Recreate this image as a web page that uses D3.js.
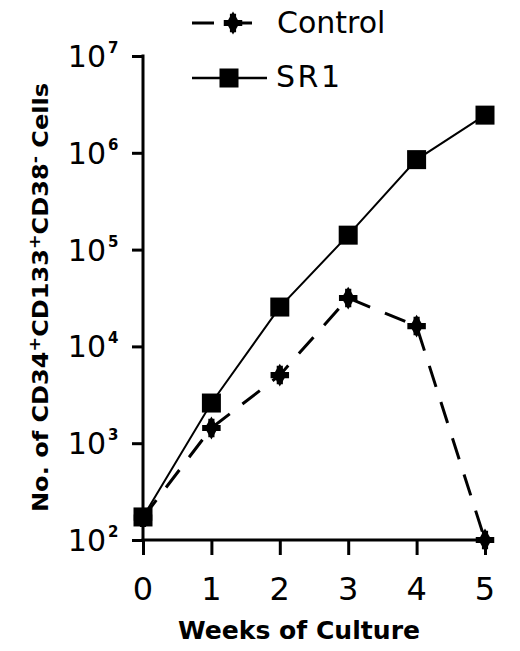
<!DOCTYPE html>
<html>
<head>
<meta charset="utf-8">
<script src="https://cdn.jsdelivr.net/npm/d3@7"></script>
<style>
  html, body { margin: 0; padding: 0; background: #fff; }
  svg { display: block; }
</style>
</head>
<body>
<svg id="chart" width="520" height="651"></svg>
<script>
// ---- data ----
const weeks = [0, 1, 2, 3, 4, 5];
const controlValues = [170, 1435, 5050, 31600, 16200, 100];
const sr1Values = [173, 2600, 25500, 141000, 850000, 2450000];
const yTickValues = [1e2, 1e3, 1e4, 1e5, 1e6, 1e7];
const yTickExponents = ["2", "3", "4", "5", "6", "7"];
const xTickValues = [0, 1, 2, 3, 4, 5];
const seriesNames = ["Control", "SR1"];
const xTitle = "Weeks of Culture";

// ---- setup ----
const svg = d3.select("#chart");
const x = d3.scaleLinear().domain([0, 5]).range([143, 485]);
const y = d3.scaleLog().domain([1e2, 1e7]).range([540, 56]);

const FONT = "'DejaVu Sans', Arial, sans-serif";
const AXW = 3;

// ---- axes ----
const yAxis = d3.axisLeft(y).tickValues(yTickValues).tickSize(11).tickSizeOuter(0).tickFormat(() => "");
const gy = svg.append("g").attr("transform", `translate(${x(0)},0)`).call(yAxis);
gy.selectAll("path, line").attr("stroke", "#000").attr("stroke-width", AXW);
gy.select(".domain").attr("d", `M0,${y(1e7) - 1.5}V${y(1e2)}`);

const xAxis = d3.axisBottom(x).tickValues(xTickValues).tickSize(15).tickSizeOuter(0).tickFormat(() => "");
const gx = svg.append("g").attr("transform", `translate(0,${y(1e2)})`).call(xAxis);
gx.selectAll("path, line").attr("stroke", "#000").attr("stroke-width", AXW);
gx.select(".domain").attr("d", `M${x(0) - 1.5},0H${x(5) + 6}`);

// y tick labels with superscripts
yTickValues.forEach((v, i) => {
  const ty = y(v);
  svg.append("text")
    .attr("x", 106).attr("y", ty + 11)
    .attr("text-anchor", "end")
    .attr("font-family", FONT).attr("font-size", 30)
    .attr("fill", "#000")
    .text("10");
  svg.append("text")
    .attr("x", 108).attr("y", ty - 3)
    .attr("font-family", FONT).attr("font-size", 15).attr("font-weight", "bold")
    .attr("fill", "#000")
    .text(yTickExponents[i]);
});

// x tick labels
xTickValues.forEach(v => {
  svg.append("text")
    .attr("x", x(v)).attr("y", 600)
    .attr("text-anchor", "middle")
    .attr("font-family", FONT).attr("font-size", 32)
    .attr("fill", "#000")
    .text(String(v));
});

// axis titles
svg.append("text")
  .attr("x", 178).attr("y", 639)
  .attr("font-family", FONT).attr("font-size", 24).attr("font-weight", "bold")
  .attr("textLength", 242).attr("lengthAdjust", "spacingAndGlyphs")
  .attr("fill", "#000")
  .text(xTitle);

const yt = svg.append("text")
  .attr("transform", "translate(48,512) rotate(-90)")
  .attr("x", 0).attr("y", 0)
  .attr("font-family", FONT).attr("font-size", 22).attr("font-weight", "bold")
  .attr("textLength", 429).attr("lengthAdjust", "spacingAndGlyphs")
  .attr("fill", "#000");
yt.append("tspan").text("No. of CD34");
yt.append("tspan").attr("dy", -8).attr("font-size", 16).text("+");
yt.append("tspan").attr("dy", 8).text("CD133");
yt.append("tspan").attr("dy", -8).attr("font-size", 16).text("+");
yt.append("tspan").attr("dy", 8).text("CD38");
yt.append("tspan").attr("dy", -8).attr("font-size", 16).text("-");
yt.append("tspan").attr("dy", 8).text(" Cells");

// ---- lines ----
const line = d3.line().x(d => x(d[0])).y(d => y(d[1]));
const controlData = weeks.map((w, i) => [w, controlValues[i]]);
const sr1Data = weeks.map((w, i) => [w, sr1Values[i]]);

svg.append("path").datum(sr1Data)
  .attr("d", line).attr("fill", "none")
  .attr("stroke", "#000").attr("stroke-width", 2);

svg.append("path").datum(controlData)
  .attr("d", line).attr("fill", "none")
  .attr("stroke", "#000").attr("stroke-width", 3)
  .attr("stroke-dasharray", "22,16");

// ---- markers ----
const crossSym = d3.symbol().type(d3.symbolCross).size(190);
const diamondSym = d3.symbol().type(d3.symbolDiamond).size(150);
function drawStar(g, cx, cy) {
  g.append("path").attr("d", crossSym()).attr("transform", `translate(${cx},${cy})`).attr("fill", "#000");
  g.append("path").attr("d", diamondSym()).attr("transform", `translate(${cx},${cy})`).attr("fill", "#000");
}
const SQ = 19;
function drawSquare(g, cx, cy) {
  g.append("rect").attr("x", cx - SQ / 2).attr("y", cy - SQ / 2)
    .attr("width", SQ).attr("height", SQ).attr("fill", "#000");
}

const gm = svg.append("g");
controlData.forEach(d => drawStar(gm, x(d[0]), y(d[1])));
sr1Data.forEach(d => drawSquare(gm, x(d[0]), y(d[1])));

// ---- legend ----
const lg = svg.append("g");
lg.append("line").attr("x1", 192).attr("x2", 255).attr("y1", 23).attr("y2", 23)
  .attr("stroke", "#000").attr("stroke-width", 3).attr("stroke-dasharray", "22,16");
drawStar(lg, 233, 23);
lg.append("text").attr("x", 277).attr("y", 33)
  .attr("font-family", FONT).attr("font-size", 30).attr("fill", "#000")
  .text(seriesNames[0]);

lg.append("line").attr("x1", 192).attr("x2", 267).attr("y1", 78).attr("y2", 78)
  .attr("stroke", "#000").attr("stroke-width", 2.5);
drawSquare(lg, 229, 78);
lg.append("text").attr("x", 276).attr("y", 87)
  .attr("font-family", FONT).attr("font-size", 30).attr("fill", "#000")
  .attr("textLength", 64).attr("lengthAdjust", "spacing")
  .text(seriesNames[1]);
</script>
</body>
</html>
